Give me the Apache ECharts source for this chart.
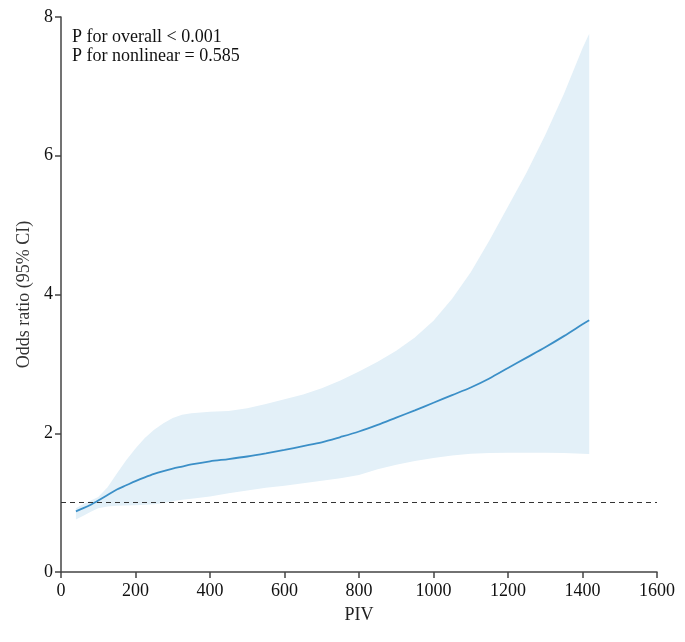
<!DOCTYPE html>
<html>
<head>
<meta charset="utf-8">
<script src="https://cdn.jsdelivr.net/npm/echarts@6/dist/echarts.min.js"></script>
<style>
html,body{margin:0;padding:0;background:#fff;}
#chart{width:685px;height:642px;}
</style>
</head>
<body>
<div id="chart"></div>
<script>
// PIV values
var piv = [40, 60, 80, 100, 125, 150, 175, 200, 225, 250, 275, 300, 325, 350, 400, 450, 500, 550, 600, 650, 700, 750, 800, 850, 900, 950, 1000, 1050, 1100, 1150, 1200, 1250, 1300, 1350, 1400, 1418];
// Odds ratio estimate
var orEst = [0.875, 0.92, 0.97, 1.03, 1.11, 1.19, 1.25, 1.31, 1.365, 1.415, 1.455, 1.49, 1.52, 1.55, 1.595, 1.628, 1.665, 1.71, 1.76, 1.815, 1.87, 1.945, 2.025, 2.12, 2.225, 2.33, 2.44, 2.55, 2.66, 2.79, 2.94, 3.09, 3.24, 3.40, 3.57, 3.63];
// Lower 95% CI
var ciLow = [0.755, 0.81, 0.87, 0.92, 0.945, 0.955, 0.96, 0.962, 0.968, 0.975, 0.995, 1.02, 1.04, 1.055, 1.09, 1.135, 1.175, 1.215, 1.245, 1.28, 1.315, 1.35, 1.40, 1.48, 1.545, 1.60, 1.645, 1.68, 1.705, 1.715, 1.72, 1.72, 1.72, 1.715, 1.705, 1.70];
// Upper 95% CI
var ciHigh = [0.92, 0.98, 1.03, 1.08, 1.22, 1.42, 1.61, 1.78, 1.93, 2.05, 2.145, 2.22, 2.265, 2.29, 2.31, 2.32, 2.36, 2.42, 2.49, 2.56, 2.65, 2.76, 2.89, 3.03, 3.19, 3.38, 3.62, 3.94, 4.32, 4.78, 5.27, 5.76, 6.30, 6.89, 7.55, 7.76];
// Axis ticks
var xTicks = {min: 0, max: 1600, interval: 200};
var yTicks = {min: 0, max: 8, interval: 2};
var annotations = ['P for overall < 0.001', 'P for nonlinear = 0.585'];

var FONT = '"Liberation Serif", "Times New Roman", serif';
var chart = echarts.init(document.getElementById('chart'), null, {renderer: 'canvas'});

var lineData = piv.map(function (x, i) { return [x, orEst[i]]; });

var option = {
  animation: false,
  backgroundColor: '#fff',
  grid: {left: 61, right: 28, top: 17, bottom: 70, containLabel: false},
  xAxis: {
    type: 'value', min: xTicks.min, max: xTicks.max, interval: xTicks.interval,
    name: 'PIV', nameLocation: 'middle', nameGap: 34,
    nameTextStyle: {fontFamily: FONT, fontSize: 18, color: '#222'},
    axisLine: {show: true, onZero: false, lineStyle: {color: '#444', width: 1.5}},
    axisTick: {show: true, length: 6, lineStyle: {color: '#444', width: 1.5}},
    axisLabel: {fontFamily: FONT, fontSize: 18, color: '#111', margin: 10,
      formatter: function (v) { return String(v); }},
    splitLine: {show: false}
  },
  yAxis: {
    type: 'value', min: yTicks.min, max: yTicks.max, interval: yTicks.interval,
    name: 'Odds ratio (95% CI)', nameLocation: 'middle', nameGap: 22,
    nameTextStyle: {fontFamily: FONT, fontSize: 18, color: '#333'},
    axisLine: {show: true, onZero: false, lineStyle: {color: '#444', width: 1.5}},
    axisTick: {show: true, length: 6, lineStyle: {color: '#444', width: 1.5}},
    axisLabel: {fontFamily: FONT, fontSize: 18, color: '#111', margin: 8,
      formatter: function (v) { return String(v); }},
    splitLine: {show: false}
  },
  graphic: [{
    type: 'text', left: 72, top: 28,
    style: {text: annotations.join('\n'), font: '18px ' + FONT, fill: '#111', lineHeight: 19}
  }],
  series: [
    {
      type: 'custom',
      silent: true,
      z: 1,
      data: [[piv[0], ciLow[0]]],
      renderItem: function (params, api) {
        var pts = [];
        for (var i = 0; i < piv.length; i++) pts.push(api.coord([piv[i], ciHigh[i]]));
        for (var j = piv.length - 1; j >= 0; j--) pts.push(api.coord([piv[j], ciLow[j]]));
        return {
          type: 'polygon',
          shape: {points: pts},
          style: {fill: '#e3f0f8', stroke: 'none'}
        };
      }
    },
    {
      type: 'line',
      data: lineData,
      z: 3,
      symbol: 'none',
      smooth: 0.3,
      lineStyle: {color: '#3b8fc7', width: 1.8},
      markLine: {
        silent: true,
        symbol: 'none',
        label: {show: false},
        lineStyle: {type: [5, 4], color: '#333', width: 1.2},
        data: [{yAxis: 1}]
      }
    }
  ]
};
chart.setOption(option);
</script>
</body>
</html>
